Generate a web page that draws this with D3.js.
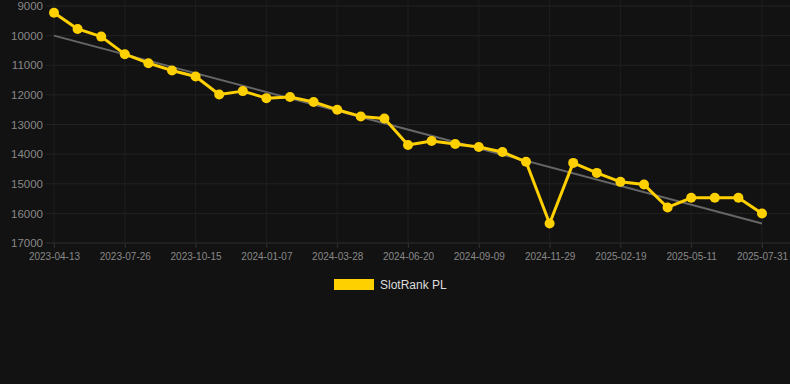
<!DOCTYPE html>
<html><head><meta charset="utf-8">
<script src="https://cdn.jsdelivr.net/npm/d3@7/dist/d3.min.js"></script>
<style>
html,body{margin:0;padding:0;background:#121212;}
svg{display:block;}
text{font-family:"Liberation Sans",Arial,sans-serif;}
</style></head>
<body>
<svg id="chart" width="790" height="384"></svg>
<script>
const dates = ["2023-04-13","2023-05-18","2023-06-22","2023-07-26","2023-08-22","2023-09-18","2023-10-15","2023-11-12","2023-12-10","2024-01-07","2024-02-03","2024-03-01","2024-03-28","2024-04-25","2024-05-23","2024-06-20","2024-07-17","2024-08-13","2024-09-09","2024-10-06","2024-11-02","2024-11-29","2024-12-26","2025-01-23","2025-02-19","2025-03-16","2025-04-15","2025-05-11","2025-06-07","2025-07-04","2025-07-31"];
const ranks = [9226,9774,10033,10626,10930,11178,11380,11986,11873,12110,12074,12242,12500,12727,12800,13690,13556,13657,13758,13926,14258,16340,14296,14633,14936,15027,15801,15475,15475,15475,16003];
const trendValues = [10000,16340];
const yTicks = [9000,10000,11000,12000,13000,14000,15000,16000,17000];
const seriesName = "SlotRank PL";

const svg = d3.select("#chart");
svg.append("rect").attr("width",790).attr("height",384).attr("fill","#121212");

const x = d3.scalePoint().domain(dates).range([54,762]);
const y = d3.scaleLinear().domain([9000,17000]).range([6,243]);

const tickDates = dates.filter((d,i)=>i%3===0);

// horizontal grid
svg.append("g").selectAll("line").data(yTicks).join("line")
  .attr("x1",46).attr("x2",790)
  .attr("y1",d=>y(d)).attr("y2",d=>y(d))
  .attr("stroke",d=>d===17000?"#2e2e2e":"#222").attr("stroke-width",1);
// vertical grid
svg.append("g").selectAll("line").data(tickDates).join("line")
  .attr("x1",d=>x(d)).attr("x2",d=>x(d))
  .attr("y1",0).attr("y2",248)
  .attr("stroke","#1e1e1e").attr("stroke-width",1);

// y axis
const ya = svg.append("g").attr("transform","translate(43,0)")
  .call(d3.axisLeft(y).tickValues(yTicks).tickSize(0).tickPadding(0).tickFormat(d3.format("d")));
ya.select(".domain").remove();
ya.selectAll("text").attr("fill","#888").attr("font-size","11.5px").attr("font-family","Liberation Sans, Arial, sans-serif");

// x axis
const xa = svg.append("g").attr("transform","translate(0,243)")
  .call(d3.axisBottom(x).tickValues(tickDates).tickSize(5).tickPadding(5));
xa.select(".domain").remove();
xa.selectAll("line").attr("stroke","#2e2e2e");
xa.selectAll("text").attr("fill","#888").attr("font-size","10px").attr("font-family","Liberation Sans, Arial, sans-serif");

// trend line
svg.append("line")
  .attr("x1",x(dates[0])).attr("y1",y(trendValues[0]))
  .attr("x2",x(dates[dates.length-1])).attr("y2",y(trendValues[1]))
  .attr("stroke","#666").attr("stroke-width",2);

// series line
const line = d3.line().x((d,i)=>x(dates[i])).y(d=>y(d));
svg.append("path").datum(ranks).attr("d",line)
  .attr("fill","none").attr("stroke","#FFD000").attr("stroke-width",3).attr("stroke-linejoin","round");
svg.append("g").selectAll("circle").data(ranks).join("circle")
  .attr("cx",(d,i)=>x(dates[i])).attr("cy",d=>y(d)).attr("r",5)
  .attr("fill","#FFD000");

// legend
const lg = svg.append("g");
lg.append("rect").attr("x",334).attr("y",279).attr("width",40).attr("height",11).attr("fill","#FFD000");
lg.append("text").attr("x",380).attr("y",289).attr("fill","#ddd").attr("font-size","12px").text(seriesName);
</script>
</body></html>
